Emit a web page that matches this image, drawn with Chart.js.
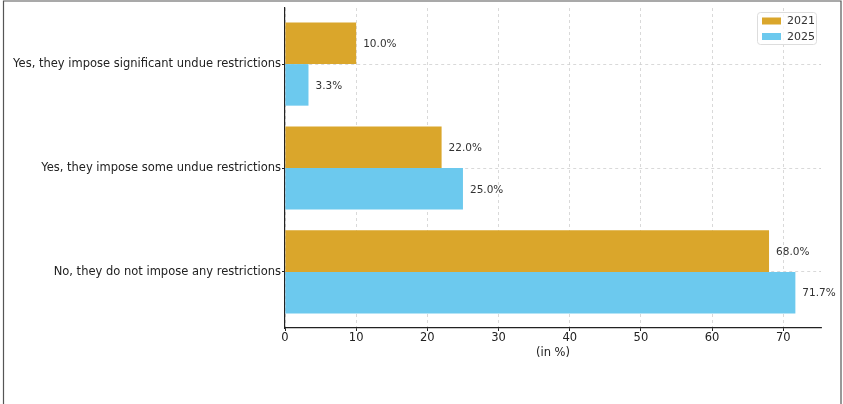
<!DOCTYPE html>
<html>
<head>
<meta charset="utf-8">
<script src="https://cdn.jsdelivr.net/npm/chart.js@4.4.0/dist/chart.umd.min.js"></script>
<style>
  html, body { margin: 0; padding: 0; background: #fff; }
  #wrap { position: relative; width: 843px; height: 404px; }
</style>
</head>
<body>
<div id="wrap"><canvas id="myChart" width="843" height="404"></canvas></div>
<script>
const categories = [
    'Yes, they impose significant undue restrictions',
    'Yes, they impose some undue restrictions',
    'No, they do not impose any restrictions'
];
const values2021 = [10.0, 22.0, 68.0];
const values2025 = [3.3, 25.0, 71.7];
const xTicks = [0, 10, 20, 30, 40, 50, 60, 70];

const ctx = document.getElementById('myChart');
const font = 'DejaVu Sans';

// value labels at the end of each bar
const barLabels = {
    id: 'barLabels',
    afterDatasetsDraw(chart) {
        const c = chart.ctx;
        c.save();
        c.font = '10.5px "' + font + '"';
        c.fillStyle = '#333';
        c.textAlign = 'left';
        c.textBaseline = 'middle';
        chart.data.datasets.forEach((ds, i) => {
            chart.getDatasetMeta(i).data.forEach((bar, j) => {
                c.fillText(ds.data[j].x.toFixed(1) + '%', bar.x + 7, bar.y + 1);
            });
        });
        c.restore();
    }
};

// legend box in the top right corner + outer frame
const extras = {
    id: 'extras',
    afterDraw(chart) {
        const c = chart.ctx;
        const a = chart.chartArea;
        c.save();
        // frame
        c.strokeStyle = '#555';
        c.lineWidth = 1.2;
        c.beginPath();
        c.moveTo(3.5, 404);
        c.lineTo(3.5, 1);
        c.lineTo(841, 1);
        c.lineTo(841, 404);
        c.stroke();

        // legend
        const x0 = a.right - 64, y0 = a.top + 4, w = 59, h = 32;
        c.fillStyle = 'rgba(255,255,255,0.8)';
        c.strokeStyle = '#ddd';
        c.lineWidth = 1;
        c.beginPath();
        c.roundRect(x0 + 0.5, y0 + 0.5, w, h, 3);
        c.fill();
        c.stroke();
        c.font = '11px "' + font + '"';
        c.textBaseline = 'middle';
        chart.data.datasets.forEach((ds, i) => {
            const yy = y0 + 9 + i * 15.5;
            c.fillStyle = ds.backgroundColor;
            c.fillRect(x0 + 5, yy - 3.5, 19, 7);
            c.fillStyle = '#333';
            c.fillText(ds.label, x0 + 30, yy + 0.5);
        });
        c.restore();
    }
};

new Chart(ctx, {
    type: 'bar',
    data: {
        datasets: [{
            label: '2021',
            data: values2021.map((v, i) => ({ x: v, y: i })),
            backgroundColor: '#DAA62B'
        }, {
            label: '2025',
            data: values2025.map((v, i) => ({ x: v, y: i })),
            backgroundColor: '#6CC9EE'
        }]
    },
    options: {
        indexAxis: 'y',
        responsive: false,
        animation: false,
        layout: {
            padding: { left: 0, right: 22, top: 8, bottom: 44 }
        },
        datasets: {
            bar: { categoryPercentage: 0.8, barPercentage: 1.0 }
        },
        plugins: {
            legend: { display: false },
            tooltip: { enabled: false }
        },
        scales: {
            x: {
                min: 0,
                max: 75.3,
                afterBuildTicks(axis) {
                    axis.ticks = xTicks.map(v => ({ value: v }));
                },
                afterFit(axis) { axis.height = 32; },
                grid: {
                    color: '#d0d0d0',
                    lineWidth: 0.8,
                    tickColor: '#222',
                    tickLength: 3,
                    tickWidth: 1,
                    tickBorderDash: []
                },
                border: { color: '#222', width: 1.2, dash: [3, 3] },
                ticks: {
                    color: '#222',
                    padding: 0,
                    font: { family: font, size: 11.5 }
                },
                title: {
                    display: true,
                    text: '(in %)',
                    color: '#222',
                    padding: { top: 1, bottom: 0 },
                    font: { family: font, size: 11.5 }
                }
            },
            y: {
                type: 'linear',
                reverse: true,
                offset: false,
                min: -0.54,
                max: 2.54,
                afterBuildTicks(axis) {
                    axis.ticks = categories.map((c, i) => ({ value: i }));
                },
                afterFit(axis) { axis.width = 285; },
                grid: {
                    offset: false,
                    color: '#d0d0d0',
                    lineWidth: 0.8,
                    tickColor: '#222',
                    tickLength: 3,
                    tickWidth: 1,
                    tickBorderDash: []
                },
                border: { color: '#222', width: 1.2, dash: [3, 3] },
                ticks: {
                    color: '#222',
                    padding: 1,
                    font: { family: font, size: 11.5 },
                    callback: (v) => categories[v]
                }
            }
        }
    },
    plugins: [barLabels, extras]
});
</script>
</body>
</html>
